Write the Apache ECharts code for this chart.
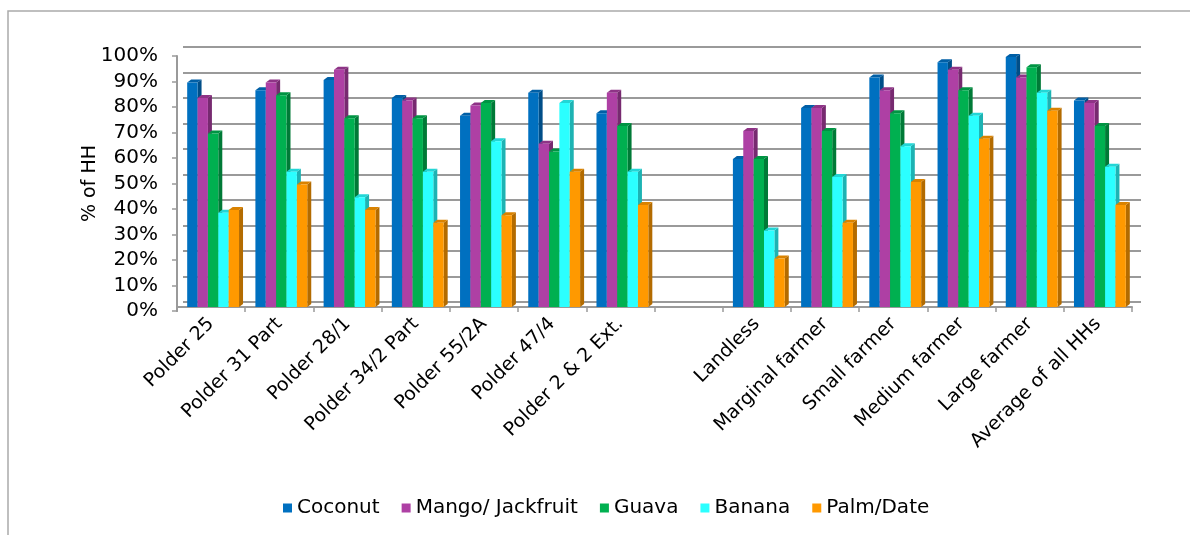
<!DOCTYPE html>
<html>
<head>
<meta charset="utf-8">
<script src="https://cdn.jsdelivr.net/npm/echarts@6/dist/echarts.min.js"></script>
<style>
  html, body { margin: 0; padding: 0; background: #fff; }
  #chart { width: 1190px; height: 535px; }
</style>
</head>
<body>
<div id="chart"></div>
<script>
// Homestead fruit trees: share of households (%) by polder and by farm category
const categories = ['Polder 25', 'Polder 31 Part', 'Polder 28/1', 'Polder 34/2 Part', 'Polder 55/2A',
  'Polder 47/4', 'Polder 2 & 2 Ext.', '', 'Landless', 'Marginal farmer', 'Small farmer',
  'Medium farmer', 'Large farmer', 'Average of all HHs'];

const coconut = [88, 85, 89, 82, 75, 84, 76, null, 58, 78, 90, 96, 98, 81];
const mango   = [82, 88, 93, 81, 79, 64, 84, null, 69, 78, 85, 93, 90, 80];
const guava   = [68, 83, 74, 74, 80, 61, 71, null, 58, 69, 76, 85, 94, 71];
const banana  = [37, 53, 43, 53, 65, 80, 53, null, 30, 51, 63, 75, 84, 55];
const palm    = [38, 48, 38, 33, 36, 53, 40, null, 19, 33, 49, 66, 77, 40];

const seriesNames = ['Coconut', 'Mango/ Jackfruit', 'Guava', 'Banana', 'Palm/Date'];
const seriesValues = [coconut, mango, guava, banana, palm];
const yTickValues = [0, 10, 20, 30, 40, 50, 60, 70, 80, 90, 100];

// front, side and top face colours for each fruit
const faces = [
  { front: '#0070C0', side: '#004E88', top: '#005FA6' },
  { front: '#AE40A4', side: '#772A70', top: '#8E3386' },
  { front: '#00B050', side: '#007A37', top: '#009443' },
  { front: '#2BFFFF', side: '#1DB3B3', top: '#22D6D6' },
  { front: '#FF9900', side: '#B36B00', top: '#D98200' }
];

const FONT = '"DejaVu Sans", Verdana, sans-serif';
const DX = 4, DY = 3;

function makeRender(k) {
  return function (params, api) {
    const ci = api.value(0);
    const v = api.value(1);
    if (v == null || isNaN(v)) return null;
    const base = api.coord([ci, 0]);
    const top = api.coord([ci, v]);
    const catW = api.size([1, 0])[0];
    const bw = catW * 0.152;
    const x0 = base[0] - 2.5 * bw + 2 + k * bw;
    const x1 = x0 + bw;
    const yb = base[1], yt = top[1];
    const c = faces[k];
    return {
      type: 'group',
      children: [
        { type: 'polygon', shape: { points: [[x1, yt], [x1 + DX, yt - DY], [x1 + DX, yb - DY], [x1, yb]] },
          style: { fill: c.side } },
        { type: 'polygon', shape: { points: [[x0, yt], [x0 + DX, yt - DY], [x1 + DX, yt - DY], [x1, yt]] },
          style: { fill: c.top } },
        { type: 'rect', shape: { x: x0, y: yt, width: bw, height: yb - yt },
          style: { fill: c.front } }
      ]
    };
  };
}

const series = seriesNames.map(function (name, k) {
  const data = [];
  seriesValues[k].forEach(function (v, i) { if (v != null) data.push([i, v]); });
  return {
    type: 'custom',
    name: name,
    xAxisIndex: 0,
    yAxisIndex: 0,
    itemStyle: { color: faces[k].front },
    encode: { x: 0, y: 1 },
    renderItem: makeRender(k),
    data: data
  };
});

const chart = echarts.init(document.getElementById('chart'), null, { renderer: 'canvas' });
chart.setOption({
  backgroundColor: '#fff',
  animation: false,
  textStyle: { fontFamily: FONT },
  graphic: [
    { type: 'polyline', shape: { points: [[8, 600], [8, 11], [1200, 11]] },
      style: { stroke: '#ababab', lineWidth: 1.5, fill: null } }
  ],
  legend: {
    bottom: 12,
    left: 278,
    icon: 'rect',
    itemWidth: 9,
    itemHeight: 9,
    itemGap: 22,
    textStyle: { fontSize: 20, color: '#000', fontFamily: FONT },
    data: seriesNames
  },
  grid: [
    // bars
    { left: 177, right: 58, top: 52, bottom: 228 },
    // back wall with gridlines
    { left: 183, right: 49, top: 47, bottom: 233 },
    // front value axis and labels
    { left: 177, right: 58, top: 56, bottom: 224 }
  ],
  xAxis: [
    { type: 'category', gridIndex: 0, data: categories, offset: 4,
      axisLine: { lineStyle: { color: '#9a9a9a', width: 2 } },
      axisTick: { show: true, length: 5, lineStyle: { color: '#9a9a9a', width: 1.5 } },
      axisLabel: { interval: 0, rotate: 45, fontSize: 19, color: '#000', fontFamily: FONT, margin: 10 } },
    { type: 'category', gridIndex: 1, data: categories, show: false },
    { type: 'category', gridIndex: 2, data: categories, show: false }
  ],
  yAxis: [
    { type: 'value', gridIndex: 0, min: 0, max: 100, interval: 10, show: false, splitLine: { show: false } },
    { type: 'value', gridIndex: 1, min: 0, max: 100, interval: 10,
      axisLine: { show: false }, axisTick: { show: false }, axisLabel: { show: false },
      splitLine: { show: true, lineStyle: { color: '#9a9a9a', width: 2 } } },
    { type: 'value', gridIndex: 2, min: 0, max: 100, interval: 10,
      name: '% of HH', nameLocation: 'middle', nameGap: 77, nameRotate: 90, nameMoveOverlap: false,
      nameTextStyle: { fontSize: 19, color: '#000', fontFamily: FONT },
      axisLine: { show: true, lineStyle: { color: '#9a9a9a', width: 2 } },
      axisTick: { show: true, length: 5, lineStyle: { color: '#9a9a9a', width: 1.5 } },
      splitLine: { show: false },
      axisLabel: { fontSize: 20, color: '#000', margin: 19, fontFamily: FONT,
        formatter: function (v) { return yTickValues.indexOf(v) >= 0 ? v + '%' : ''; } } }
  ],
  series: series
});
</script>
</body>
</html>
